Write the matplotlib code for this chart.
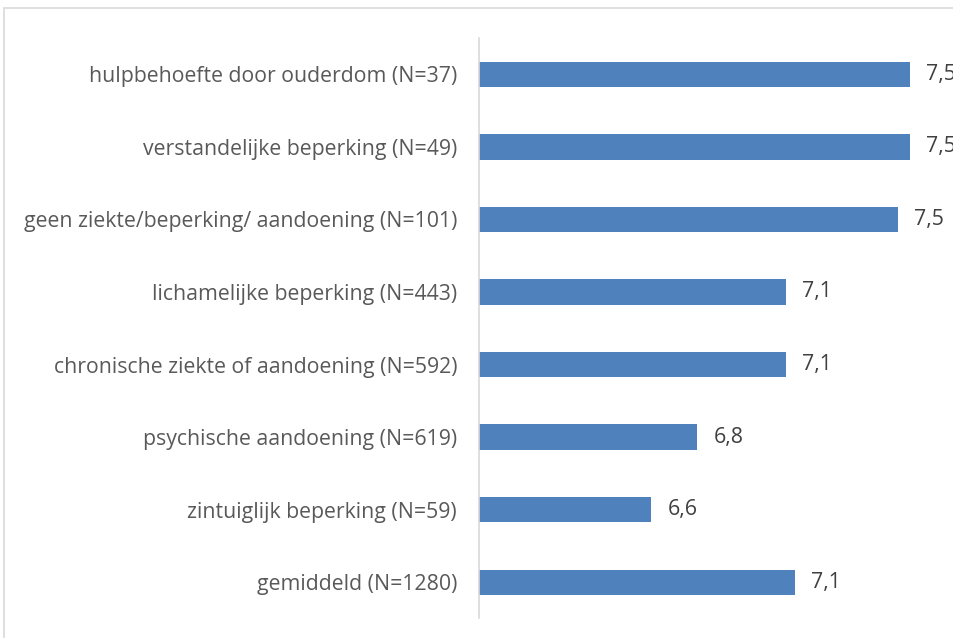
import matplotlib.pyplot as plt
from matplotlib.patches import Rectangle

# Data (top to bottom as shown)
categories = [
    "hulpbehoefte door ouderdom (N=37)",
    "verstandelijke beperking (N=49)",
    "geen ziekte/beperking/ aandoening (N=101)",
    "lichamelijke beperking (N=443)",
    "chronische ziekte of aandoening (N=592)",
    "psychische aandoening (N=619)",
    "zintuiglijk beperking (N=59)",
    "gemiddeld (N=1280)",
]
scores = [7.50, 7.50, 7.46, 7.07, 7.07, 6.76, 6.60, 7.10]

BAR_COLOR = "#4f81bd"
TEXT_COLOR = "#595959"
LABEL_COLOR = "#404040"
LINE_COLOR = "#d9d9d9"

plt.rcParams['font.family'] = ['Open Sans', 'DejaVu Sans']

fig = plt.figure(figsize=(9.54, 6.38), dpi=100)
ax = fig.add_axes([0.5024, 0.0306, 0.4813, 0.9098])

pos = list(range(len(categories)))
ax.barh(pos, [s - 6 for s in scores], left=6, height=0.35, color=BAR_COLOR)

ax.set_xlim(6, 7.6)
ax.set_ylim(len(categories) - 0.5, -0.5)

ax.set_yticks(pos)
ax.set_yticklabels(categories, fontsize=15.3, color=TEXT_COLOR)
ax.tick_params(axis='y', length=0, pad=16)
ax.set_xticks([])

for side in ['top', 'right', 'bottom']:
    ax.spines[side].set_visible(False)
ax.spines['left'].set_color(LINE_COLOR)
ax.spines['left'].set_linewidth(1.2)

# value labels
for p, s in zip(pos, scores):
    ax.annotate(f"{s:.1f}".replace('.', ','), xy=(s, p), xytext=(16, 0),
                textcoords='offset pixels',
                va='center', ha='left', fontsize=15.3, color=LABEL_COLOR)

# outer chart border
fig.patches.append(Rectangle((4 / 954, -0.05), 1.0, 1 - 8 / 638 + 0.05,
                             transform=fig.transFigure, fill=False,
                             edgecolor=LINE_COLOR, linewidth=1.2))

fig.savefig("out.png", dpi=100)
